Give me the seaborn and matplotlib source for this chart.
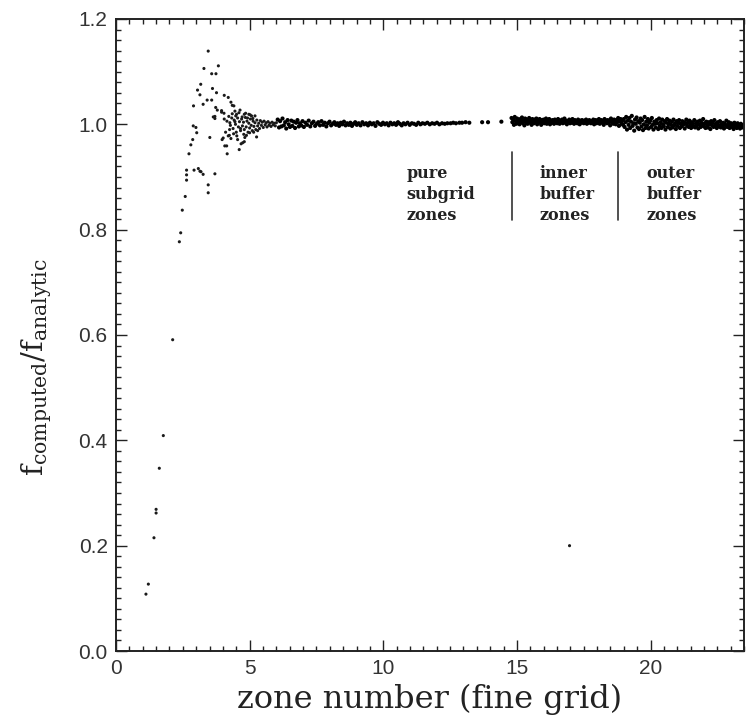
import numpy as np
import pandas as pd
import matplotlib
matplotlib.use("Agg")
import matplotlib.pyplot as plt
from matplotlib.ticker import MultipleLocator
import seaborn as sns

# ---- data ----
# sparse rising part and scatter cloud (x < 6)
early_x = [1.12, 1.21, 1.42, 1.50, 1.50, 1.62, 1.77, 2.12, 2.37, 2.42,
           2.48, 2.59, 2.64, 2.64, 2.64, 2.73, 2.80, 2.87, 2.89, 2.99,
           3.02, 2.90, 3.05, 3.14, 3.17, 3.29, 3.45, 3.58, 3.74, 3.83,
           3.61, 3.76, 3.41, 3.58, 3.26, 4.05, 4.20, 3.73, 3.79, 3.95,
           4.04, 4.30, 4.41, 4.35, 3.70, 3.64, 3.70, 3.51, 3.97, 4.01,
           4.14, 4.16, 4.24, 4.20, 4.30, 4.61, 4.74, 4.68, 4.80, 4.82,
           4.55, 4.07, 2.92, 3.08, 3.14, 3.18, 3.26, 3.70, 3.45, 3.45,
           3.95, 4.45, 4.51, 4.64, 4.80, 4.97, 5.07, 5.20, 4.26, 4.45,
           5.26, 4.05, 4.15, 4.22, 4.28, 4.33, 4.38, 4.42, 4.47, 4.50,
           4.55, 4.58, 4.62, 4.66, 4.70, 4.73, 4.77, 4.80, 4.84, 4.87,
           4.90, 4.94, 4.97, 5.00, 5.03, 5.06, 5.10, 5.13, 5.16, 5.20,
           5.23, 5.27, 5.30, 5.34, 5.37, 5.40, 5.44, 5.47, 5.51, 5.54,
           5.58, 5.62, 5.65, 5.69, 5.72, 5.76, 5.80, 5.84, 5.88, 5.92,
           5.96, 6.00, 4.35, 4.48, 4.60, 4.72, 4.85, 4.92, 5.02, 5.12,
           4.10, 4.25, 4.40, 4.52, 4.66, 4.78, 4.88, 5.00, 5.15, 5.30]
early_y = [0.108, 0.127, 0.215, 0.262, 0.269, 0.347, 0.409, 0.591, 0.777, 0.794,
           0.837, 0.863, 0.894, 0.904, 0.913, 0.944, 0.961, 0.971, 0.997, 0.994,
           0.984, 1.035, 1.065, 1.056, 1.076, 1.106, 1.139, 1.096, 1.096, 1.111,
           1.068, 1.060, 1.046, 1.046, 1.038, 1.055, 1.051, 1.032, 1.027, 1.023,
           1.021, 1.042, 1.035, 1.036, 1.015, 1.014, 1.011, 0.975, 0.971, 0.974,
           0.959, 0.944, 0.979, 0.978, 0.973, 0.952, 0.965, 0.963, 0.967, 0.975,
           0.971, 0.959, 0.913, 0.916, 0.911, 0.910, 0.905, 0.906, 0.885, 0.870,
           1.026, 1.025, 1.019, 1.027, 1.019, 1.019, 1.016, 1.016, 1.003, 1.005,
           0.976, 1.010, 1.006, 1.015, 0.998, 1.012, 0.992, 1.008, 1.000, 0.985,
           1.012, 0.995, 1.005, 0.988, 1.010, 0.997, 1.004, 0.990, 1.013, 0.995,
           1.006, 0.985, 1.002, 0.993, 1.010, 0.998, 0.988, 1.006, 0.996, 1.003,
           0.990, 1.008, 0.997, 1.002, 0.992, 1.007, 0.998, 1.004, 0.994, 1.006,
           0.999, 1.003, 0.995, 1.005, 0.998, 1.002, 0.996, 1.004, 0.999, 1.002,
           0.997, 1.003, 1.020, 1.016, 1.022, 1.014, 1.021, 1.012, 1.018, 1.011,
           0.985, 0.990, 0.982, 0.978, 0.992, 0.981, 0.979, 0.984, 0.985, 0.988]

# thin band of pure subgrid zones (6 - 12.5)
pure_x = [6.05, 6.10, 6.14, 6.19, 6.23, 6.28, 6.33, 6.37, 6.42, 6.46,
          6.51, 6.56, 6.60, 6.65, 6.70, 6.74, 6.79, 6.84, 6.88, 6.93,
          6.98, 7.03, 7.09, 7.15, 7.21, 7.27, 7.33, 7.39, 7.45, 7.51,
          7.57, 7.63, 7.69, 7.75, 7.81, 7.87, 7.93, 7.99, 8.05, 8.11,
          8.17, 8.23, 8.29, 8.35, 8.41, 8.47, 8.53, 8.59, 8.65, 8.71,
          8.77, 8.83, 8.89, 8.95, 9.01, 9.08, 9.15, 9.22, 9.29, 9.36,
          9.43, 9.50, 9.57, 9.64, 9.71, 9.78, 9.85, 9.92, 9.99, 10.06,
          10.13, 10.20, 10.27, 10.34, 10.41, 10.48, 10.55, 10.62, 10.69, 10.76,
          10.83, 10.91, 10.99, 11.07, 11.15, 11.23, 11.31, 11.39, 11.47, 11.56,
          11.65, 11.74, 11.83, 11.92, 12.01, 12.10, 12.20, 12.30, 12.40]
pure_y = [1.009, 0.994, 1.006, 0.996, 1.011, 0.998, 1.004, 0.992, 1.008, 1.000,
          0.995, 1.007, 0.997, 1.005, 0.993, 1.003, 1.008, 0.996, 1.002, 0.998,
          1.006, 0.995, 1.003, 0.999, 1.007, 0.996, 1.002, 1.005, 0.997, 1.001,
          1.004, 0.998, 1.006, 0.999, 1.003, 0.996, 1.002, 1.005, 0.998, 1.001,
          1.004, 0.999, 1.002, 0.997, 1.003, 1.000, 1.005, 0.998, 1.002, 0.999,
          1.003, 0.997, 1.001, 1.004, 0.999, 1.002, 0.998, 1.004, 1.000, 1.002,
          0.998, 1.003, 1.000, 1.002, 0.997, 1.004, 1.001, 0.999, 1.003, 1.000,
          1.002, 0.998, 1.003, 1.000, 1.002, 0.999, 1.004, 1.001, 0.998, 1.002,
          1.000, 1.003, 0.999, 1.002, 1.001, 0.999, 1.003, 1.000, 1.002, 1.001,
          1.003, 1.000, 1.002, 1.001, 1.003, 1.000, 1.002, 1.001, 1.002]

# sparse points before the buffer
gap_x = [12.52, 12.62, 12.72, 12.85, 12.95, 13.08, 13.22, 13.70, 13.92, 14.42]
gap_y = [1.002, 1.003, 1.002, 1.003, 1.003, 1.004, 1.003, 1.004, 1.004, 1.005]

# inner buffer zones
inner_x = [14.80, 14.83, 14.86, 14.89, 14.92, 14.95, 14.98, 15.01, 15.04, 15.07,
           15.10, 15.13, 15.16, 15.19, 15.22, 15.25, 15.28, 15.31, 15.34, 15.37,
           15.40, 15.43, 15.46, 15.49, 15.52, 15.55, 15.58, 15.61, 15.64, 15.67,
           15.70, 15.73, 15.76, 15.79, 15.82, 15.85, 15.88, 15.91, 15.94, 15.97,
           16.00, 16.03, 16.06, 16.09, 16.12, 16.15, 16.18, 16.21, 16.24, 16.27,
           16.30, 16.33, 16.36, 16.39, 16.42, 16.45, 16.48, 16.51, 16.54, 16.57,
           16.60, 16.63, 16.66, 16.69, 16.72, 16.75, 16.78, 16.81, 16.84, 16.87,
           16.90, 16.93, 16.96, 16.99, 17.02, 17.05, 17.08, 17.11, 17.14, 17.17,
           17.20, 17.23, 17.26, 17.29, 17.32, 17.35, 17.38, 17.41, 17.44, 17.47,
           17.50, 17.53, 17.56, 17.59, 17.62, 17.65, 17.68, 17.71, 17.74, 17.77,
           17.80, 17.83, 17.86, 17.89, 17.92, 17.95, 17.98, 18.01, 18.04, 18.07,
           18.10, 18.13, 18.16, 18.19, 18.22, 18.25, 18.28, 18.31, 18.34, 18.37,
           18.40, 18.43, 18.46, 18.49, 18.52, 18.55, 18.58, 18.61, 18.64, 18.67,
           18.70, 18.73, 18.76, 18.79, 18.82, 18.85, 18.88, 18.91, 18.94, 18.97]
inner_y = [1.012, 1.004, 1.009, 0.999, 1.014, 1.006, 1.001, 1.011, 1.003, 1.008,
           1.000, 1.010, 1.005, 1.013, 1.002, 1.007, 0.998, 1.011, 1.004, 1.009,
           1.001, 1.006, 1.012, 1.003, 1.008, 0.999, 1.010, 1.005, 1.002, 1.009,
           1.004, 1.011, 1.000, 1.007, 1.003, 1.010, 1.005, 0.999, 1.008, 1.003,
           1.009, 1.002, 1.006, 1.011, 1.001, 1.007, 1.004, 1.010, 1.000, 1.006,
           1.003, 1.008, 1.005, 1.001, 1.009, 1.004, 1.007, 1.002, 1.010, 1.005,
           1.001, 1.007, 1.004, 1.009, 1.002, 1.006, 1.011, 1.003, 1.007, 1.000,
           1.006, 1.004, 1.009, 1.002, 1.007, 1.003, 1.010, 1.005, 1.001, 1.008,
           1.004, 1.006, 1.002, 1.009, 1.005, 1.000, 1.007, 1.003, 1.008, 1.005,
           1.002, 1.007, 1.004, 1.009, 1.001, 1.006, 1.003, 1.008, 1.005, 1.002,
           1.006, 1.003, 1.009, 1.000, 1.005, 1.008, 1.002, 1.006, 1.004, 1.010,
           1.001, 1.005, 1.008, 1.003, 1.006, 0.999, 1.010, 1.004, 1.007, 1.002,
           1.008, 1.003, 1.006, 0.998, 1.011, 1.004, 1.007, 1.001, 1.009, 1.005,
           1.000, 1.008, 1.004, 1.012, 0.997, 1.006, 1.010, 1.002, 1.007, 0.999]

# outer buffer zones
outer_x = [19.00, 19.03, 19.06, 19.09, 19.12, 19.15, 19.18, 19.21, 19.24, 19.27,
           19.30, 19.33, 19.36, 19.39, 19.42, 19.45, 19.48, 19.51, 19.54, 19.57,
           19.60, 19.63, 19.66, 19.69, 19.72, 19.75, 19.78, 19.81, 19.84, 19.87,
           19.90, 19.93, 19.96, 19.99, 20.02, 20.05, 20.08, 20.11, 20.14, 20.17,
           20.20, 20.23, 20.26, 20.29, 20.32, 20.35, 20.38, 20.41, 20.44, 20.47,
           20.50, 20.53, 20.56, 20.59, 20.62, 20.65, 20.68, 20.71, 20.74, 20.77,
           20.80, 20.83, 20.86, 20.89, 20.92, 20.95, 20.98, 21.01, 21.04, 21.07,
           21.10, 21.13, 21.16, 21.19, 21.22, 21.25, 21.28, 21.31, 21.34, 21.37,
           21.40, 21.43, 21.46, 21.49, 21.52, 21.55, 21.58, 21.61, 21.64, 21.67,
           21.70, 21.73, 21.76, 21.79, 21.82, 21.85, 21.88, 21.91, 21.94, 21.97,
           22.00, 22.03, 22.06, 22.09, 22.12, 22.15, 22.18, 22.21, 22.24, 22.27,
           22.30, 22.33, 22.36, 22.39, 22.42, 22.45, 22.48, 22.51, 22.54, 22.57,
           22.60, 22.63, 22.66, 22.69, 22.72, 22.75, 22.78, 22.81, 22.84, 22.87,
           22.90, 22.93, 22.96, 22.99, 23.02, 23.05, 23.08, 23.11, 23.14, 23.17,
           23.20, 23.23, 23.26, 23.29, 23.32, 23.35, 23.38, 23.41, 23.44, 23.47,
           23.50, 23.53, 23.56, 23.59, 23.62]
outer_y = [1.010, 0.995, 1.004, 1.014, 0.990, 1.007, 0.999, 1.012, 0.993, 1.005,
           1.016, 0.997, 1.002, 0.988, 1.009, 1.001, 1.013, 0.994, 1.006, 0.991,
           1.003, 1.011, 0.996, 1.008, 0.989, 1.000, 1.014, 0.993, 1.005, 0.998,
           1.010, 0.992, 1.003, 1.007, 0.995, 1.012, 0.999, 0.990, 1.005, 1.001,
           0.994, 1.008, 1.002, 0.991, 1.011, 0.997, 1.004, 0.993, 1.009, 1.000,
           0.996, 1.006, 0.990, 1.003, 1.010, 0.995, 1.001, 1.007, 0.992, 0.999,
           1.005, 0.994, 1.009, 0.998, 1.002, 0.991, 1.006, 0.997, 1.003, 1.008,
           0.993, 1.001, 0.996, 1.006, 0.999, 1.004, 0.992, 1.002, 1.009, 0.997,
           1.003, 0.995, 1.007, 0.999, 0.993, 1.004, 1.000, 0.996, 1.008, 0.994,
           1.002, 0.997, 1.005, 0.992, 1.000, 1.007, 0.995, 1.003, 0.998, 1.010,
           0.996, 1.002, 0.993, 1.005, 0.999, 0.994, 1.004, 1.000, 0.991, 1.006,
           0.998, 1.003, 0.995, 1.008, 0.997, 1.001, 0.993, 1.004, 0.999, 0.996,
           1.006, 0.994, 1.000, 0.997, 1.003, 0.992, 1.001, 0.998, 1.007, 0.995,
           0.999, 1.004, 0.993, 0.997, 1.002, 0.995, 1.000, 0.991, 1.003, 0.996,
           0.998, 0.993, 1.002, 0.995, 0.999, 0.992, 1.001, 0.996, 0.994, 0.999,
           0.995, 0.998, 0.993, 0.997, 0.996]

# lone outlier
lone_x = [16.97]
lone_y = [0.20]

region_bounds = [14.83, 18.78]
region_labels = ["pure\nsubgrid\nzones", "inner\nbuffer\nzones", "outer\nbuffer\nzones"]
region_label_x = [10.88, 15.85, 19.85]

x_ticks = [0, 5, 10, 15, 20]
y_ticks = [0.0, 0.2, 0.4, 0.6, 0.8, 1.0, 1.2]

# ---- assemble ----
sparse_df = pd.DataFrame({"zone": early_x + lone_x, "ratio": early_y + lone_y})
band_df = pd.DataFrame({"zone": pure_x + gap_x + inner_x + outer_x,
                        "ratio": pure_y + gap_y + inner_y + outer_y})

sns.set_theme(style="ticks")
plt.rcParams["font.family"] = ["Liberation Sans", "DejaVu Sans"]
plt.rcParams["mathtext.fontset"] = "dejavuserif"

fig = plt.figure(figsize=(7.48, 7.24), dpi=100)
ax = fig.add_axes([0.1551, 0.1008, 0.8396, 0.8730])

sns.scatterplot(data=sparse_df, x="zone", y="ratio", ax=ax, s=5, color="#1a1a1a",
                linewidth=0, edgecolor="none", legend=False)
sns.scatterplot(data=band_df, x="zone", y="ratio", ax=ax, s=9, color="black",
                linewidth=0, edgecolor="none", legend=False)

ax.set_xlim(0, 23.5)
ax.set_ylim(0.0, 1.2)
ax.set_xticks(x_ticks)
ax.set_yticks(y_ticks)
ax.set_xticklabels([str(t) for t in x_ticks])
ax.set_yticklabels([f"{t:.1f}" for t in y_ticks])
ax.xaxis.set_minor_locator(MultipleLocator(0.5))
ax.yaxis.set_minor_locator(MultipleLocator(0.02))

ax.tick_params(which="both", direction="in", top=True, right=True,
               color="#222222", width=1.0)
ax.tick_params(which="major", length=8, labelsize=15, labelcolor="#333333", pad=6)
ax.tick_params(which="minor", length=3.5)
for sp in ax.spines.values():
    sp.set_linewidth(1.4)
    sp.set_color("#222222")

ax.set_xlabel("zone number (fine grid)", family="DejaVu Serif", fontsize=23,
              color="#222222", labelpad=4)
ax.set_ylabel(r"$\mathrm{f_{computed}/f_{analytic}}$", fontsize=21,
              color="#222222")
ax.yaxis.set_label_coords(-0.098, 0.45)

for xb in region_bounds:
    ax.plot([xb, xb], [0.818, 0.948], color="#333333", linewidth=1.2)
for lx, lab in zip(region_label_x, region_labels):
    ax.text(lx, 0.923, lab, family="DejaVu Serif", fontsize=11.5,
            fontweight="bold", color="#222222", va="top", ha="left",
            linespacing=1.3)

fig.savefig("out.png", dpi=100)
